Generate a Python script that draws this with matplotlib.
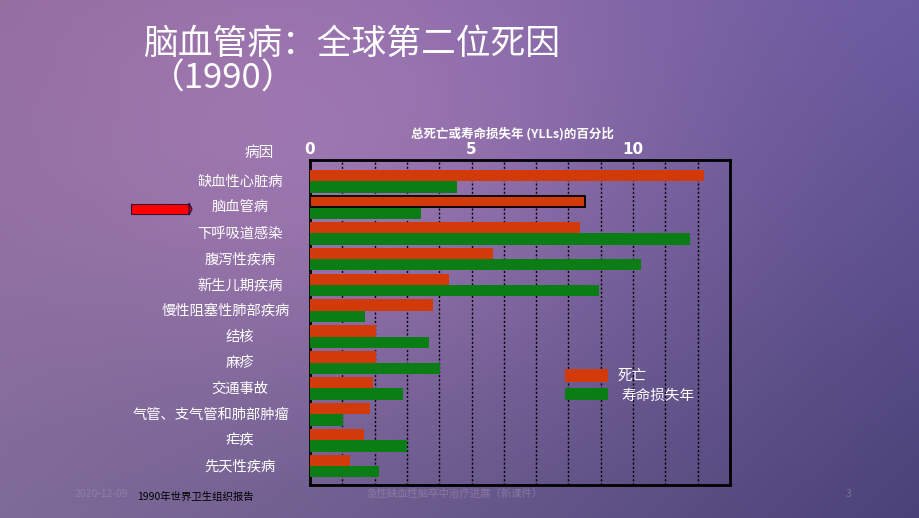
import numpy as np
import matplotlib.pyplot as plt
from matplotlib.patches import Rectangle, Polygon

plt.rcParams['font.family'] = ['Noto Sans CJK SC', 'DejaVu Sans']

# data (percent of total deaths / YLLs, 1990)
causes = ['缺血性心脏病', '脑血管病', '下呼吸道感染', '腹泻性疾病', '新生儿期疾病',
          '慢性阻塞性肺部疾病', '结核', '麻疹', '交通事故', '气管、支气管和肺部肿瘤',
          '疟疾', '先天性疾病']
deaths = [12.2, 8.5, 8.35, 5.67, 4.31, 3.81, 2.03, 2.03, 1.95, 1.86, 1.66, 1.23]
ylls = [4.55, 3.45, 11.75, 10.24, 8.93, 1.70, 3.68, 4.01, 2.89, 1.03, 3.01, 2.15]
xticks = [0, 5, 10]

W, H = 920, 518
red = '#d23a0a'
green = '#0a7d14'


def px(x, y):
    return x / W, 1 - y / H


fig = plt.figure(figsize=(W / 100, H / 100), dpi=100)

# slide background gradient
gx, gy = np.meshgrid(np.linspace(0, 1, 200), np.linspace(0, 1, 120))
tl = np.array([142, 106, 156]) / 255
tr = np.array([106, 90, 160]) / 255
bl = np.array([125, 106, 152]) / 255
br = np.array([74, 66, 120]) / 255
bg = (tl * ((1 - gx) * (1 - gy))[..., None] + tr * (gx * (1 - gy))[..., None]
      + bl * ((1 - gx) * gy)[..., None] + br * (gx * gy)[..., None])
spot = np.exp(-(((gx - 0.38) / 0.38) ** 2 + ((gy - 0.3) / 0.5) ** 2))
bg = bg + spot[..., None] * np.array([0.13, 0.08, 0.09])
bg = np.clip(bg, 0, 1)
bax = fig.add_axes([0, 0, 1, 1])
bax.imshow(bg, aspect='auto', extent=[0, 1, 0, 1], origin='upper', interpolation='bilinear')
bax.set_axis_off()

# titles
fig.text(*px(143, 44), '脑血管病：全球第二位死因', color='white', fontsize=25,
         fontweight='light', va='center', ha='left')
fig.text(*px(150, 79), '（1990）', color='white', fontsize=25,
         fontweight='light', va='center', ha='left')

# chart
ax = fig.add_axes([310 / W, 1 - 485 / H, 420 / W, 325 / H])
ax.patch.set_alpha(0)
y = np.arange(len(causes))
bh = 0.44
ax.barh(y - bh / 2, deaths, height=bh, color=red, zorder=3)
ax.barh(y + bh / 2, ylls, height=bh, color=green, zorder=3)
# highlight cerebrovascular death bar
ax.barh(y[1] - bh / 2, deaths[1], height=bh, color='none', edgecolor='black', lw=1.3, zorder=4)

ax.set_xlim(0, 13)
ax.set_ylim(len(causes) - 1 + 0.73, -0.83)
ax.set_xticks(range(0, 13))
ax.set_xticklabels([str(t) if t in xticks else '' for t in range(0, 13)])
ax.xaxis.tick_top()
ax.tick_params(axis='x', length=0, pad=2, labelcolor='white', labelsize=11)
for lab in ax.get_xticklabels():
    lab.set_fontweight('bold')
    lab.set_family('DejaVu Sans')
ax.set_yticks([])
ax.grid(axis='x', color='black', linestyle=(0, (1.5, 1.5)), lw=1.0, zorder=1)
for s in ax.spines.values():
    s.set_linewidth(2)
    s.set_color('black')

fig.text(*px(512, 134), '总死亡或寿命损失年 (YLLs)的百分比', color='white', fontsize=9,
         fontweight='bold', ha='center', va='center')
fig.text(*px(259, 153), '病因', color='white', fontsize=10.5, ha='center', va='center')

# category labels
for i, c in enumerate(causes):
    yc = 181.5 + i * 25.9
    n = len(c)
    right = min(240 + n * 7.5, 293)
    fig.text(*px(right - n * 7.5, yc), c, color='white', fontsize=10.3,
             ha='center', va='center')

# red arrow pointing at 脑血管病
fig.add_artist(Rectangle(px(131, 214), 58 / W, 10 / H, transform=fig.transFigure,
                         facecolor='#ff0000', edgecolor='#3a1030', lw=0.8))
fig.add_artist(Polygon([px(189, 203), px(192, 209), px(189, 215)], closed=True,
                       transform=fig.transFigure, facecolor='#ff0000',
                       edgecolor='#1a1040', lw=0.8))

# legend
fig.add_artist(Rectangle(px(565, 382), 43 / W, 13 / H, transform=fig.transFigure,
                         facecolor=red, edgecolor='none'))
fig.add_artist(Rectangle(px(565, 400), 43 / W, 12 / H, transform=fig.transFigure,
                         facecolor=green, edgecolor='none'))
fig.text(*px(618, 376), '死亡', color='white', fontsize=10.5, va='center')
fig.text(*px(621, 396), '寿命损失年', color='white', fontsize=10.5, va='center')

# footer
fig.text(*px(137, 497), '1990年世界卫生组织报告', color='black', fontsize=7.5, va='center')
fig.text(*px(75, 494), '2020-12-09', color='#9a8cb0', fontsize=7.5, va='center', alpha=0.6)
fig.text(*px(455, 494), '急性缺血性脑卒中治疗进展（新课件）', color='#9a8cb0', fontsize=7.5,
         ha='center', va='center', alpha=0.6)
fig.text(*px(846, 494), '3', color='#9a8cb0', fontsize=7.5, va='center', alpha=0.6)

fig.savefig('out.png', dpi=100)
